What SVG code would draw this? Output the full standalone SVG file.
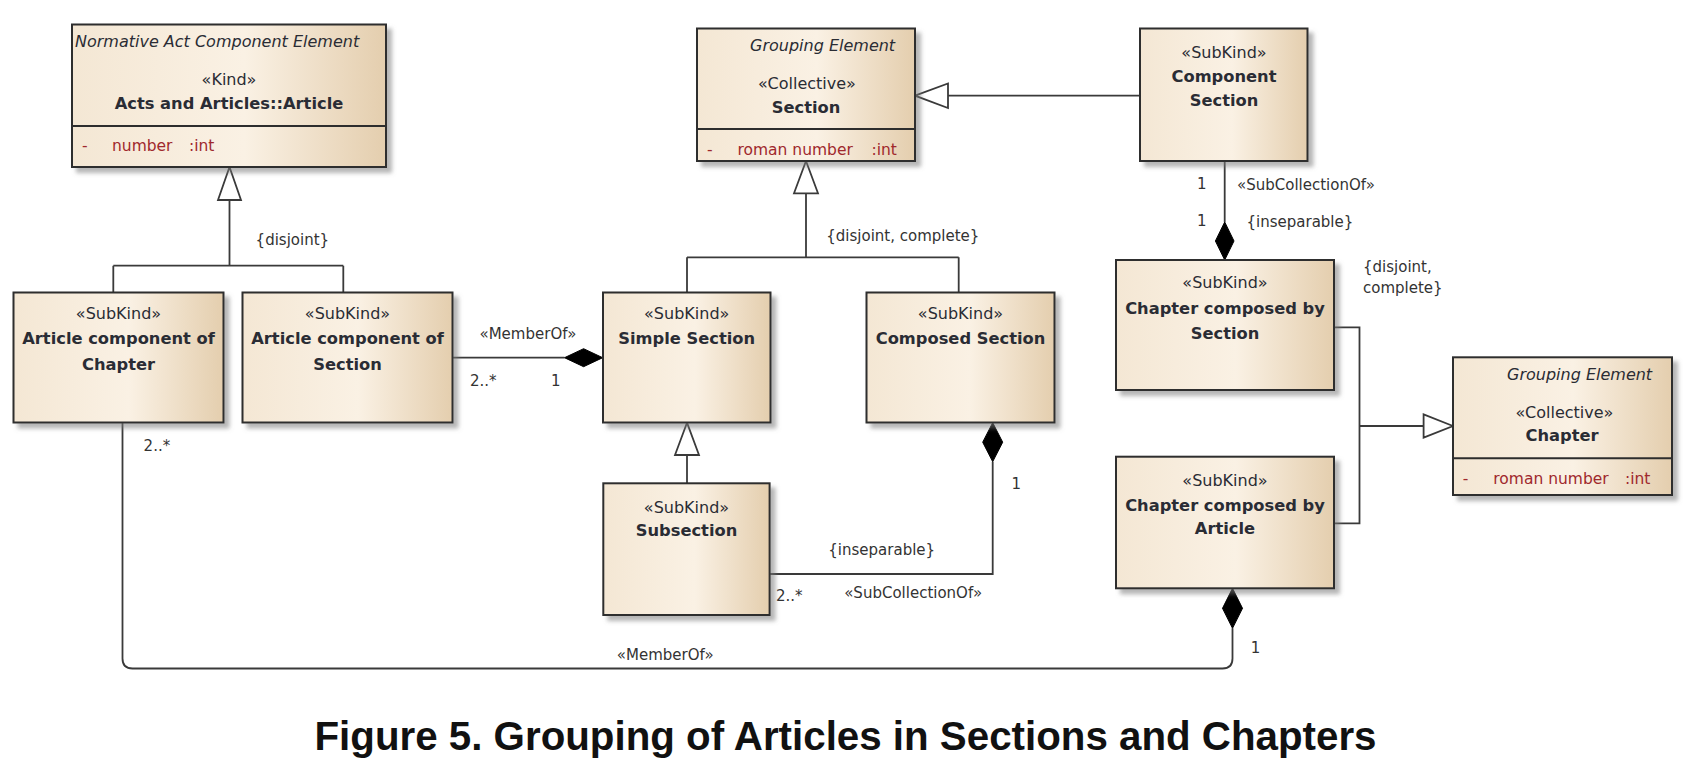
<svg xmlns="http://www.w3.org/2000/svg" width="1689" height="781" viewBox="0 0 1689 781">
<defs>
<linearGradient id="fillg" x1="0" y1="0" x2="1" y2="0">
<stop offset="0" stop-color="#F4E7D4"/>
<stop offset="0.55" stop-color="#FAF1E4"/>
<stop offset="1" stop-color="#E4CEAE"/>
</linearGradient>
<filter id="sh" x="-10%" y="-10%" width="130%" height="130%">
<feDropShadow dx="5" dy="5" stdDeviation="2.2" flood-color="#7a7a7a" flood-opacity="0.55"/>
</filter>
<style>
.box{fill:url(#fillg);stroke:#2d2d2d;stroke-width:2;filter:url(#sh)}
.sep{stroke:#2d2d2d;stroke-width:2}
.hd{font-family:"DejaVu Sans",sans-serif;font-style:italic;font-size:16px;fill:#2a2c34}
.st{font-family:"DejaVu Sans",sans-serif;font-size:16px;fill:#2a2c34;text-anchor:middle}
.nm{font-family:"DejaVu Sans",sans-serif;font-weight:bold;font-size:16.3px;fill:#2a2c34;text-anchor:middle}
.at{font-family:"DejaVu Sans",sans-serif;font-size:15.5px;fill:#A0282D}
.lb{font-family:"DejaVu Sans",sans-serif;font-size:15px;fill:#333}
.ln{fill:none;stroke:#3a3a3a;stroke-width:1.8}
.tri{fill:#ffffff;stroke:#3a3a3a;stroke-width:1.8}
.dia{fill:#000;stroke:#000;stroke-width:1}
.cap{font-family:"Liberation Sans",Arial,sans-serif;font-weight:bold;font-size:40.3px;fill:#111;text-anchor:middle}
</style>
</defs>
<rect width="1689" height="781" fill="#ffffff"/>

<g id="connectors">
<!-- generalization to Article -->
<path class="ln" d="M229.5,200 V265.7 M113.3,265.7 H343.3 M113.3,265.7 V292.5 M343.3,265.7 V292.5"/>
<polygon class="tri" points="229.5,167 218,200 241,200"/>
<text class="lb" x="255.6" y="245">{disjoint}</text>
<!-- generalization to Section -->
<path class="ln" d="M806,193.3 V257.3 M687,257.3 H958.7 M687,257.3 V292.5 M958.7,257.3 V292.5"/>
<polygon class="tri" points="806,161 794,193.3 818,193.3"/>
<text class="lb" x="826.3" y="241">{disjoint, complete}</text>
<!-- Component Section to Section -->
<path class="ln" d="M1140,95.7 H948"/>
<polygon class="tri" points="915,95.7 948,83.5 948,108"/>
<!-- Subsection to Simple Section -->
<path class="ln" d="M687,455 V483.3"/>
<polygon class="tri" points="687,422.7 675,455 699,455"/>
<!-- generalization to Chapter -->
<path class="ln" d="M1334,327.3 H1359.5 V523.3 H1334 M1359.5,426 H1423.6"/>
<polygon class="tri" points="1453,426 1423.6,414.3 1423.6,437.7"/>
<text class="lb" x="1363" y="272">{disjoint,</text>
<text class="lb" x="1363" y="293">complete}</text>
<!-- MemberOf: Article component of Section to Simple Section -->
<path class="ln" d="M452.5,357.7 H564.5"/>
<polygon class="dia" points="564.5,357.7 583.6,348.7 602.7,357.7 583.6,366.7"/>
<text class="lb" x="479.5" y="339">«MemberOf»</text>
<text class="lb" x="470" y="386">2..*</text>
<text class="lb" x="551" y="386">1</text>
<!-- SubCollectionOf: Component Section to Chapter composed by Section -->
<path class="ln" d="M1224.7,161 V222"/>
<polygon class="dia" points="1224.7,222 1234,241 1224.7,260 1215.4,241"/>
<text class="lb" x="1197" y="189">1</text>
<text class="lb" x="1197" y="226">1</text>
<text class="lb" x="1237" y="190">«SubCollectionOf»</text>
<text class="lb" x="1246.5" y="227">{inseparable}</text>
<!-- SubCollectionOf: Subsection to Composed Section -->
<path class="ln" d="M992.7,461.7 V574 H769.6"/>
<polygon class="dia" points="992.7,422.7 1002.7,442.2 992.7,461.7 982.7,442.2"/>
<text class="lb" x="1011.5" y="489">1</text>
<text class="lb" x="828.3" y="555">{inseparable}</text>
<text class="lb" x="776" y="601">2..*</text>
<text class="lb" x="844.2" y="598">«SubCollectionOf»</text>
<!-- MemberOf: Article component of Chapter to Chapter composed by Article -->
<path class="ln" d="M122.5,422.5 V658.5 Q122.5,668.5 132.5,668.5 H1222.5 Q1232.5,668.5 1232.5,658.5 V628.3"/>
<polygon class="dia" points="1232.5,588.3 1242.5,608.3 1232.5,628.3 1222.5,608.3"/>
<text class="lb" x="143.6" y="451">2..*</text>
<text class="lb" x="616.8" y="660">«MemberOf»</text>
<text class="lb" x="1250.7" y="653">1</text>
</g>

<g id="article">
<rect class="box" x="72" y="24.5" width="314" height="142.5"/>
<line class="sep" x1="72" y1="126" x2="386" y2="126"/>
<text class="hd" x="75" y="47">Normative Act Component Element</text>
<text class="st" x="229" y="85">«Kind»</text>
<text class="nm" x="229" y="109">Acts and Articles::Article</text>
<text class="at" x="82" y="151">-</text>
<text class="at" x="112" y="151">number</text>
<text class="at" x="189" y="151">:int</text>
</g>

<g id="articleChapter">
<rect class="box" x="13.5" y="292.5" width="210" height="130"/>
<text class="st" x="118.5" y="319">«SubKind»</text>
<text class="nm" x="118.5" y="344">Article component of</text>
<text class="nm" x="118.5" y="370">Chapter</text>
</g>

<g id="articleSection">
<rect class="box" x="242.5" y="292.5" width="210" height="130"/>
<text class="st" x="347.5" y="319">«SubKind»</text>
<text class="nm" x="347.5" y="344">Article component of</text>
<text class="nm" x="347.5" y="370">Section</text>
</g>

<g id="section">
<rect class="box" x="697" y="28.5" width="218" height="132.5"/>
<line class="sep" x1="697" y1="129" x2="915" y2="129"/>
<text class="hd" x="750" y="51">Grouping Element</text>
<text class="st" x="807" y="89">«Collective»</text>
<text class="nm" x="806" y="113">Section</text>
<text class="at" x="707" y="155">-</text>
<text class="at" x="737.5" y="155">roman number</text>
<text class="at" x="871.5" y="155">:int</text>
</g>

<g id="componentSection">
<rect class="box" x="1140" y="28.5" width="167.5" height="132.5"/>
<text class="st" x="1224" y="58">«SubKind»</text>
<text class="nm" x="1224" y="82">Component</text>
<text class="nm" x="1224" y="106">Section</text>
</g>

<g id="simpleSection">
<rect class="box" x="603" y="292.5" width="167.5" height="130"/>
<text class="st" x="686.7" y="319">«SubKind»</text>
<text class="nm" x="686.7" y="343.5">Simple Section</text>
</g>

<g id="composedSection">
<rect class="box" x="866.5" y="292.5" width="188" height="130"/>
<text class="st" x="960.5" y="319">«SubKind»</text>
<text class="nm" x="960.5" y="343.5">Composed Section</text>
</g>

<g id="subsection">
<rect class="box" x="603.3" y="483.3" width="166.3" height="131.7"/>
<text class="st" x="686.5" y="513">«SubKind»</text>
<text class="nm" x="686.5" y="536">Subsection</text>
</g>

<g id="chapterBySection">
<rect class="box" x="1116" y="260" width="218" height="130"/>
<text class="st" x="1225" y="288">«SubKind»</text>
<text class="nm" x="1225" y="314">Chapter composed by</text>
<text class="nm" x="1225" y="339">Section</text>
</g>

<g id="chapterByArticle">
<rect class="box" x="1116" y="456.7" width="218" height="131.6"/>
<text class="st" x="1225" y="486">«SubKind»</text>
<text class="nm" x="1225" y="511">Chapter composed by</text>
<text class="nm" x="1225" y="534">Article</text>
</g>

<g id="chapter">
<rect class="box" x="1453" y="357.3" width="219" height="137.7"/>
<line class="sep" x1="1453" y1="458.3" x2="1672" y2="458.3"/>
<text class="hd" x="1507" y="380">Grouping Element</text>
<text class="st" x="1564.5" y="418">«Collective»</text>
<text class="nm" x="1562" y="441">Chapter</text>
<text class="at" x="1462.7" y="484">-</text>
<text class="at" x="1493.3" y="484">roman number</text>
<text class="at" x="1625" y="484">:int</text>
</g>

<text class="cap" x="845.5" y="750">Figure 5. Grouping of Articles in Sections and Chapters</text>
</svg>
